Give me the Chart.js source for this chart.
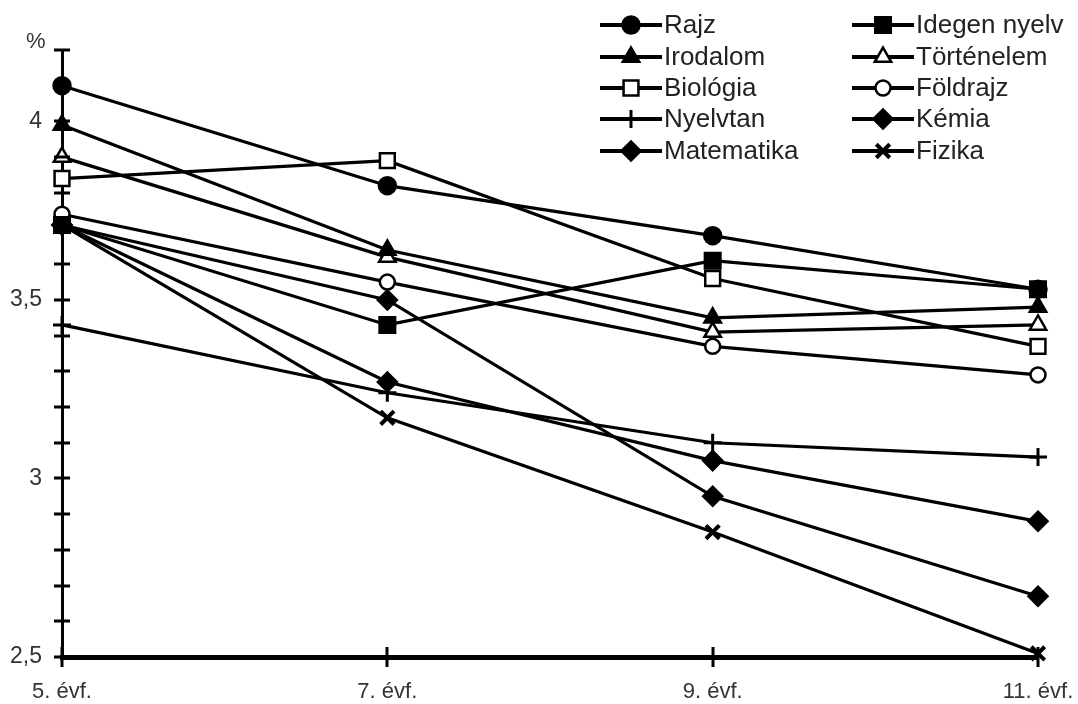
<!DOCTYPE html>
<html>
<head>
<meta charset="utf-8">
<script src="https://cdn.jsdelivr.net/npm/chart.js@4/dist/chart.umd.min.js"></script>
<style>
  html, body { margin: 0; padding: 0; background: #fff; }
  #wrap { position: relative; width: 1078px; height: 704px; }
</style>
</head>
<body>
<div id="wrap"><canvas id="chart" width="1078" height="704"></canvas></div>
<script>
const categories = ['5. évf.', '7. évf.', '9. évf.', '11. évf.'];

const rajz       = [4.10, 3.82, 3.68, 3.53];
const idegen     = [3.71, 3.43, 3.61, 3.53];
const irodalom   = [3.99, 3.64, 3.45, 3.48];
const tortenelem = [3.90, 3.62, 3.41, 3.43];
const biologia   = [3.84, 3.89, 3.56, 3.37];
const foldrajz   = [3.74, 3.55, 3.37, 3.29];
const nyelvtan   = [3.43, 3.24, 3.10, 3.06];
const kemia      = [3.71, 3.27, 3.05, 2.88];
const matematika = [3.71, 3.50, 2.95, 2.67];
const fizika     = [3.71, 3.17, 2.85, 2.51];

const yMin = 2.5, yMax = 4.2, yStep = 0.1;

function serie(label, data, style, radius, filled, bw) {
    return {
        label: label,
        data: data,
        borderColor: '#000',
        borderWidth: 3.2,
        tension: 0,
        clip: false,
        pointStyle: style,
        pointRadius: radius,
        pointHoverRadius: radius,
        pointBackgroundColor: filled ? '#000' : '#fff',
        pointBorderColor: '#000',
        pointBorderWidth: bw || 2.5
    };
}

const datasets = [
    serie('Rajz', rajz, 'circle', 8.5, true),
    serie('Idegen nyelv', idegen, 'rect', 11, true),
    serie('Irodalom', irodalom, 'triangle', 9.5, true),
    serie('Történelem', tortenelem, 'triangle', 9.5, false),
    serie('Biológia', biologia, 'rect', 10.5, false),
    serie('Földrajz', foldrajz, 'circle', 7.5, false),
    serie('Nyelvtan', nyelvtan, 'cross', 9, true, 3),
    serie('Kémia', kemia, 'rectRot', 9.5, true),
    serie('Matematika', matematika, 'rectRot', 9.5, true),
    serie('Fizika', fizika, 'crossRot', 9.5, true, 4)
];

// tick marks crossing both axes, like the original
const crossTicks = {
    id: 'crossTicks',
    afterDraw(chart) {
        const ctx = chart.ctx;
        const x = chart.scales.x, y = chart.scales.y;
        ctx.save();
        ctx.strokeStyle = '#000';
        ctx.lineWidth = 3;
        ctx.beginPath();
        y.ticks.forEach((t, i) => {
            const py = Math.round(y.getPixelForTick(i));
            ctx.moveTo(x.left - 8, py);
            ctx.lineTo(x.left + 8, py);
        });
        x.ticks.forEach((t, i) => {
            const px = Math.round(x.getPixelForTick(i));
            ctx.moveTo(px, y.bottom - 10);
            ctx.lineTo(px, y.bottom + 10);
        });
        ctx.stroke();

        ctx.fillStyle = '#333';
        ctx.font = '22px "Liberation Sans", Arial, sans-serif';
        ctx.textBaseline = 'alphabetic';
        ctx.fillText('%', 26, 48);
        ctx.restore();
    }
};

// two-column legend in the top right corner
const legendBox = {
    id: 'legendBox',
    afterDraw(chart) {
        const ctx = chart.ctx;
        const cols = [600, 852];
        const rowY = [25, 57, 88, 119, 151];
        ctx.save();
        chart.data.datasets.forEach((ds, i) => {
            const x0 = cols[i % 2];
            const yy = rowY[Math.floor(i / 2)];
            ctx.strokeStyle = '#000';
            ctx.lineWidth = 4;
            ctx.beginPath();
            ctx.moveTo(x0, yy);
            ctx.lineTo(x0 + 62, yy);
            ctx.stroke();
            ctx.fillStyle = ds.pointBackgroundColor;
            ctx.strokeStyle = ds.pointBorderColor;
            ctx.lineWidth = ds.pointBorderWidth;
            Chart.helpers.drawPoint(ctx, {
                pointStyle: ds.pointStyle,
                radius: ds.pointRadius,
                rotation: 0,
                borderWidth: ds.pointBorderWidth
            }, x0 + 31, yy);
            ctx.fillStyle = '#222';
            ctx.font = '26px "Liberation Sans", Arial, sans-serif';
            ctx.textBaseline = 'middle';
            ctx.fillText(ds.label, x0 + 64, yy + 1);
        });
        ctx.restore();
    }
};

new Chart(document.getElementById('chart'), {
    type: 'line',
    data: { labels: categories, datasets: datasets },
    options: {
        responsive: false,
        animation: false,
        events: [],
        layout: { padding: { top: 50, right: 40, left: 0, bottom: 0 } },
        plugins: { legend: { display: false }, tooltip: { enabled: false } },
        scales: {
            x: {
                offset: false,
                grid: { display: false },
                border: { display: true, color: '#000', width: 5 },
                ticks: {
                    color: '#333',
                    padding: 14,
                    maxRotation: 0,
                    font: { family: '"Liberation Sans", Arial, sans-serif', size: 22 }
                },
                afterFit(scale) { scale.height = 47; scale.paddingRight = 0; }
            },
            y: {
                min: yMin,
                max: yMax,
                grid: { display: false },
                border: { display: true, color: '#000', width: 3 },
                ticks: {
                    stepSize: yStep,
                    autoSkip: false,
                    color: '#333',
                    padding: 12,
                    font: { family: '"Liberation Sans", Arial, sans-serif', size: 23 },
                    callback(v) {
                        const h = v * 2;
                        if (Math.abs(h - Math.round(h)) < 1e-6) {
                            return String(Math.round(h) / 2).replace('.', ',');
                        }
                        return '';
                    }
                },
                afterFit(scale) { scale.width = 62; }
            }
        }
    },
    plugins: [crossTicks, legendBox]
});
</script>
</body>
</html>
